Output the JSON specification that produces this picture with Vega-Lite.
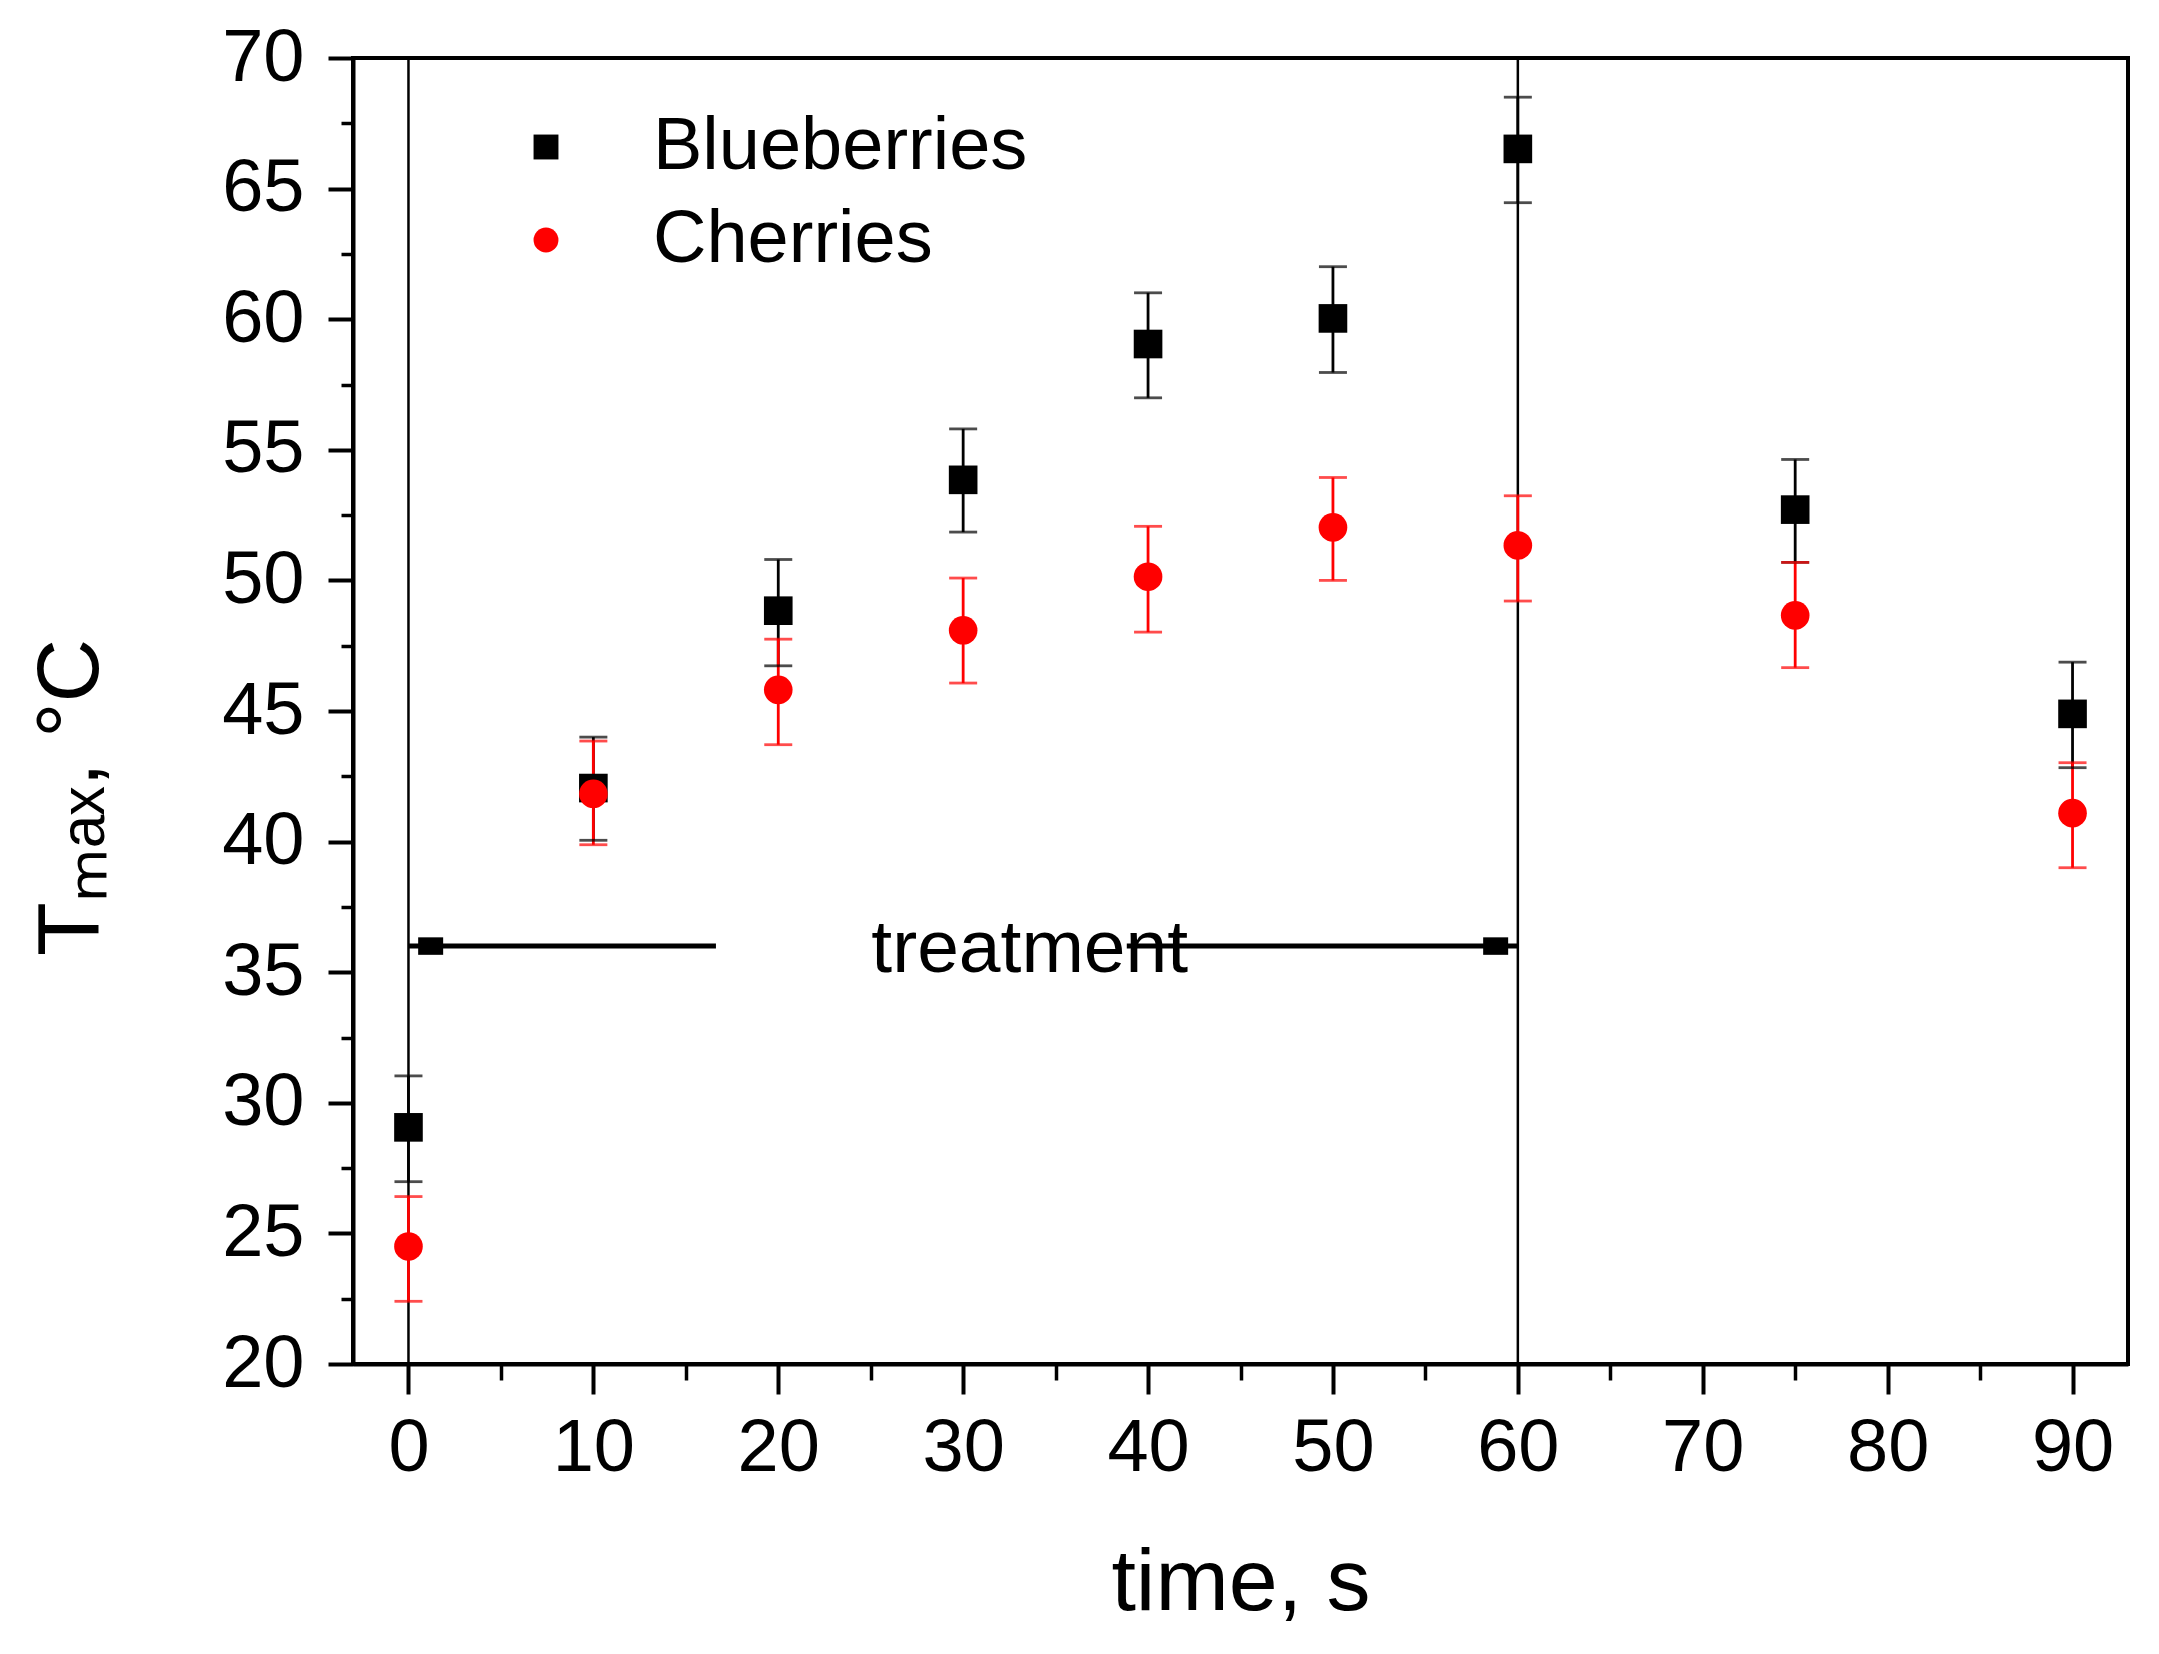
{
  "$schema": "https://vega.github.io/schema/vega-lite/v6.json",
  "width": 1775,
  "height": 1306,
  "autosize": {"type": "none"},
  "padding": {"left": 353, "top": 58, "right": 31, "bottom": 290},
  "background": "white",
  "config": {
    "font": "Liberation Sans",
    "view": {"stroke": "black", "strokeWidth": 4},
    "axis": {
      "grid": false,
      "labelFont": "Liberation Sans",
      "labelFontSize": 74,
      "labelColor": "black",
      "labelFlush": false,
      "labelOverlap": false,
      "domainColor": "black",
      "domainWidth": 4,
      "tickColor": "black",
      "tickWidth": 4,
      "titleFont": "Liberation Sans",
      "titleColor": "black",
      "titleFontWeight": "normal"
    },
    "legend": {
      "orient": "none",
      "legendX": 156,
      "legendY": 52,
      "title": null,
      "padding": 0,
      "labelFont": "Liberation Sans",
      "labelFontSize": 74,
      "labelColor": "black",
      "labelLimit": 1000,
      "labelOffset": 70,
      "symbolSize": 620,
      "symbolOpacity": 1,
      "symbolStrokeWidth": 0,
      "rowPadding": 19
    }
  },
  "datasets": {
    "temps": [
      {"time": 0, "fruit": "Blueberries", "T": 29.06, "lo": 26.98, "hi": 31.03},
      {"time": 10, "fruit": "Blueberries", "T": 42.05, "lo": 40.05, "hi": 44.0},
      {"time": 20, "fruit": "Blueberries", "T": 48.84, "lo": 46.73, "hi": 50.8},
      {"time": 30, "fruit": "Blueberries", "T": 53.85, "lo": 51.85, "hi": 55.8},
      {"time": 40, "fruit": "Blueberries", "T": 59.05, "lo": 56.99, "hi": 61.01},
      {"time": 50, "fruit": "Blueberries", "T": 60.03, "lo": 57.96, "hi": 62.01},
      {"time": 60, "fruit": "Blueberries", "T": 66.52, "lo": 64.46, "hi": 68.5},
      {"time": 75, "fruit": "Blueberries", "T": 52.71, "lo": 50.69, "hi": 54.63},
      {"time": 90, "fruit": "Blueberries", "T": 44.89, "lo": 42.83, "hi": 46.87},
      {"time": 0, "fruit": "Cherries", "T": 24.5, "lo": 22.4, "hi": 26.41},
      {"time": 10, "fruit": "Cherries", "T": 41.83, "lo": 39.88, "hi": 43.85},
      {"time": 20, "fruit": "Cherries", "T": 45.81, "lo": 43.71, "hi": 47.75},
      {"time": 30, "fruit": "Cherries", "T": 48.09, "lo": 46.07, "hi": 50.09},
      {"time": 40, "fruit": "Cherries", "T": 50.14, "lo": 48.02, "hi": 52.07},
      {"time": 50, "fruit": "Cherries", "T": 52.03, "lo": 50.0, "hi": 53.94},
      {"time": 60, "fruit": "Cherries", "T": 51.34, "lo": 49.21, "hi": 53.24},
      {"time": 75, "fruit": "Cherries", "T": 48.66, "lo": 46.66, "hi": 50.69},
      {"time": 90, "fruit": "Cherries", "T": 41.09, "lo": 39.0, "hi": 43.02}
    ],
    "vlines": [{"t": 0}, {"t": 60}],
    "arrow": [
      {"from": 0, "to": 16.63, "y": 36},
      {"from": 38.85, "to": 60, "y": 36}
    ],
    "heads": [
      {"t": 1.2, "y": 36},
      {"t": 58.8, "y": 36}
    ],
    "note": [{"t": 33.6, "y": 35, "label": "treatment"}]
  },
  "resolve": {"axis": {"x": "independent", "y": "independent"}},
  "layer": [
    {
      "layer": [
        {
          "data": {"name": "vlines"},
          "mark": {"type": "rule", "color": "black", "strokeWidth": 2.5},
          "encoding": {
            "x": {"field": "t", "type": "quantitative", "scale": {"domain": [-3, 93], "nice": false, "zero": false}}
          }
        },
        {
          "data": {"name": "note"},
          "mark": {"type": "text", "fontSize": 75, "align": "center", "baseline": "alphabetic", "color": "black", "font": "Liberation Sans"},
          "encoding": {
            "x": {"field": "t", "type": "quantitative"},
            "y": {"field": "y", "type": "quantitative"},
            "text": {"field": "label"}
          }
        },
        {
          "data": {"name": "arrow"},
          "mark": {"type": "rule", "color": "black", "strokeWidth": 5},
          "encoding": {
            "x": {"field": "from", "type": "quantitative"},
            "x2": {"field": "to"},
            "y": {"field": "y", "type": "quantitative"}
          }
        },
        {
          "data": {"name": "heads"},
          "mark": {"type": "point", "filled": true, "color": "black", "opacity": 1, "shape": "M-1,-0.7L1,-0.7L1,0.7L-1,0.7Z", "size": 625},
          "encoding": {
            "x": {"field": "t", "type": "quantitative"},
            "y": {"field": "y", "type": "quantitative"}
          }
        },
        {
          "data": {"name": "temps"},
          "mark": {"type": "rule", "strokeWidth": 2.8},
          "encoding": {
            "x": {"field": "time", "type": "quantitative"},
            "y": {"field": "lo", "type": "quantitative"},
            "y2": {"field": "hi"},
            "color": {"field": "fruit", "type": "nominal", "scale": {"domain": ["Blueberries", "Cherries"], "range": ["#000000", "#ff0000"]}}
          }
        },
        {
          "data": {"name": "temps"},
          "mark": {"type": "tick", "orient": "horizontal", "size": 28, "thickness": 2.8},
          "encoding": {
            "x": {"field": "time", "type": "quantitative"},
            "y": {"field": "lo", "type": "quantitative"},
            "color": {"field": "fruit", "type": "nominal"}
          }
        },
        {
          "data": {"name": "temps"},
          "mark": {"type": "tick", "orient": "horizontal", "size": 28, "thickness": 2.8},
          "encoding": {
            "x": {"field": "time", "type": "quantitative"},
            "y": {"field": "hi", "type": "quantitative"},
            "color": {"field": "fruit", "type": "nominal"}
          }
        },
        {
          "data": {"name": "temps"},
          "mark": {"type": "point", "filled": true, "opacity": 1, "size": 820},
          "encoding": {
            "x": {
              "field": "time",
              "type": "quantitative",
              "scale": {"domain": [-3, 93], "nice": false, "zero": false},
              "axis": {
                "orient": "bottom",
                "values": [0, 10, 20, 30, 40, 50, 60, 70, 80, 90],
                "tickSize": 30,
                "labelPadding": 18,
                "title": "time, s",
                "titleFontSize": 88,
                "titleBaseline": "alphabetic",
                "titleY": 245
              }
            },
            "y": {
              "field": "T",
              "type": "quantitative",
              "scale": {"domain": [20, 70], "nice": false, "zero": false},
              "axis": {
                "orient": "left",
                "values": [20, 25, 30, 35, 40, 45, 50, 55, 60, 65, 70],
                "tickSize": 25,
                "labelPadding": 24,
                "title": "Tₘₐₓ, °C",
                "titleFontSize": 88,
                "titleBaseline": "alphabetic",
                "titleAlign": "center",
                "titleAngle": 270,
                "titleX": -256,
                "titleY": 739
              }
            },
            "color": {
              "field": "fruit",
              "type": "nominal",
              "scale": {"domain": ["Blueberries", "Cherries"], "range": ["#000000", "#ff0000"]}
            },
            "shape": {
              "field": "fruit",
              "type": "nominal",
              "scale": {"domain": ["Blueberries", "Cherries"], "range": ["square", "circle"]}
            }
          }
        }
      ]
    },
    {
      "data": {"name": "temps"},
      "mark": {"type": "point", "opacity": 0},
      "encoding": {
        "x": {
          "field": "time",
          "type": "quantitative",
          "scale": {"domain": [-3, 93], "nice": false, "zero": false},
          "axis": {
            "orient": "bottom",
            "values": [5, 15, 25, 35, 45, 55, 65, 75, 85],
            "tickSize": 16,
            "tickWidth": 3.5,
            "labels": false,
            "domain": false,
            "title": null
          }
        },
        "y": {
          "field": "T",
          "type": "quantitative",
          "scale": {"domain": [20, 70], "nice": false, "zero": false},
          "axis": {
            "orient": "left",
            "values": [22.5, 27.5, 32.5, 37.5, 42.5, 47.5, 52.5, 57.5, 62.5, 67.5],
            "tickSize": 12,
            "tickWidth": 3.5,
            "labels": false,
            "domain": false,
            "title": null
          }
        }
      }
    }
  ]
}
